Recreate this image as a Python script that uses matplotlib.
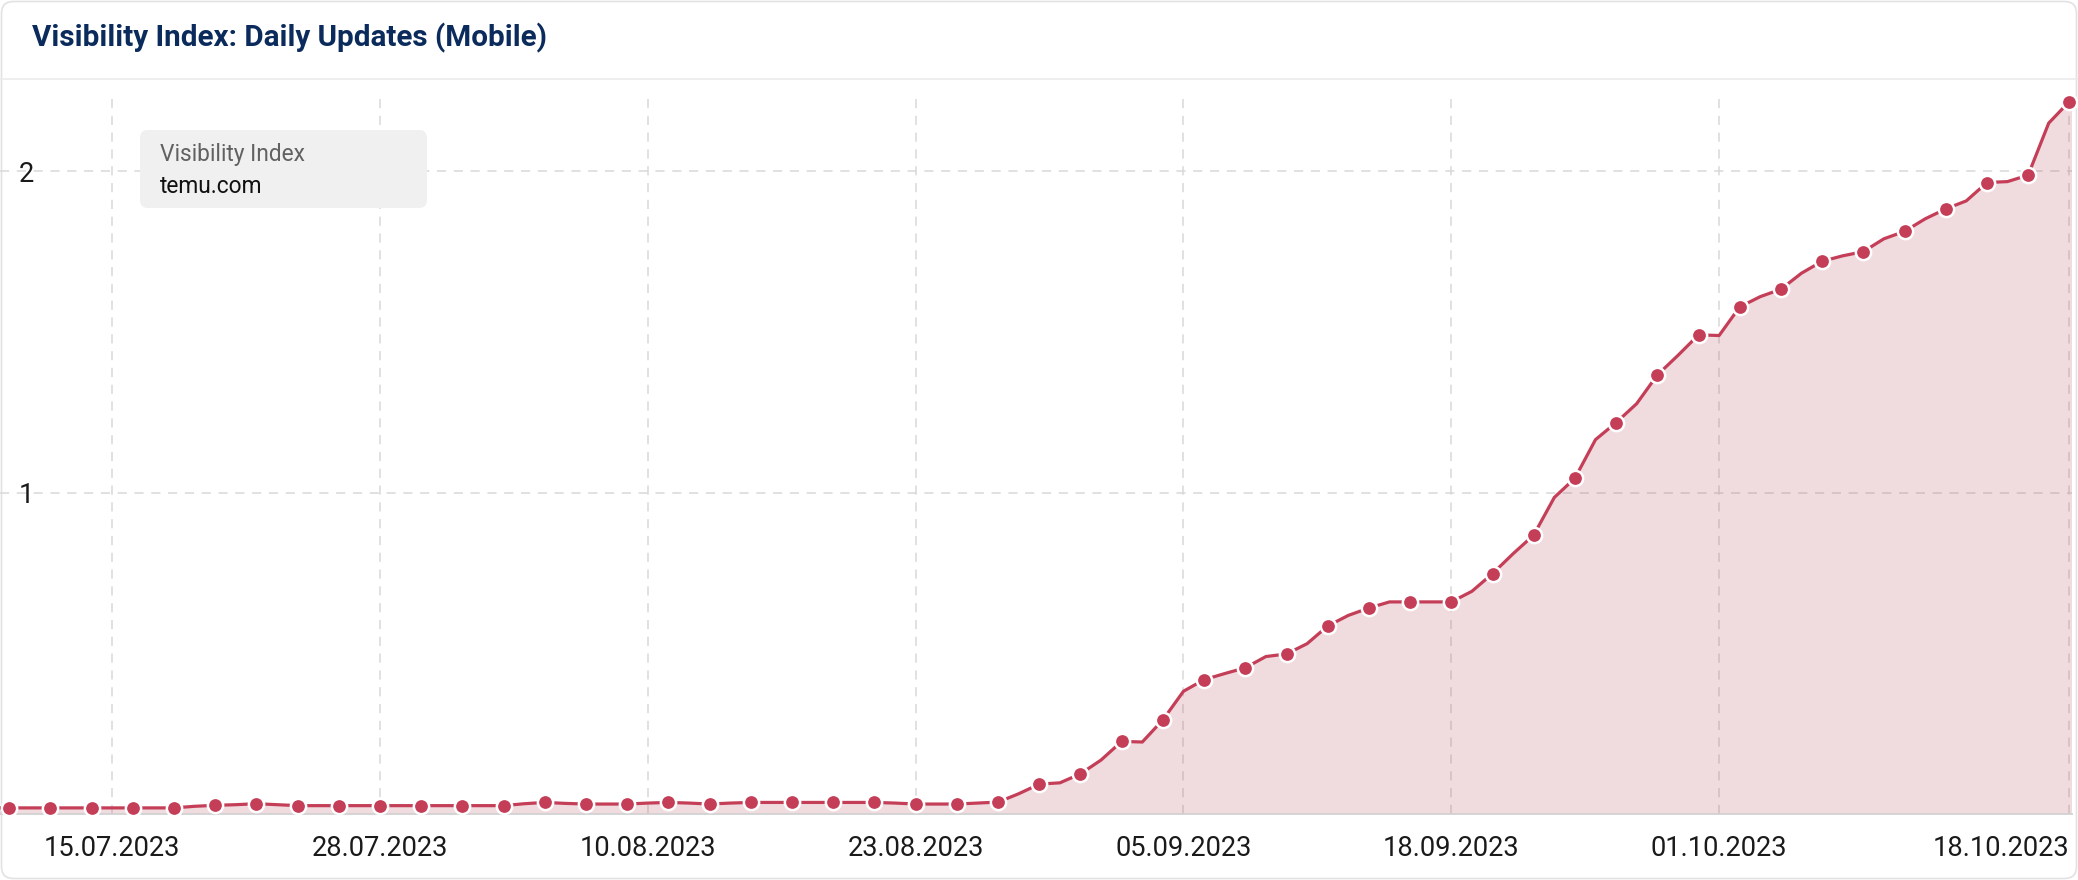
import matplotlib
matplotlib.use('Agg')
import matplotlib.pyplot as plt
import matplotlib.dates as mdates
from matplotlib.patches import FancyBboxPatch
from matplotlib.lines import Line2D
from matplotlib.transforms import Affine2D
from matplotlib.ticker import FormatStrFormatter
import pandas as pd

# ---------------- data ----------------
start_date = '2023-07-09'
visibility = [
    # July 09 - 31
    0.019, 0.019, 0.019, 0.019, 0.019, 0.019, 0.019, 0.019, 0.019, 0.019,
    0.024, 0.027, 0.029, 0.032, 0.029, 0.026, 0.026, 0.026, 0.026, 0.026,
    0.026, 0.026, 0.026,
    # August 01 - 31
    0.026, 0.026, 0.026, 0.032, 0.036, 0.033, 0.031, 0.031, 0.031, 0.034,
    0.036, 0.034, 0.031, 0.034, 0.036, 0.036, 0.036, 0.036, 0.036, 0.036,
    0.036, 0.034, 0.031, 0.031, 0.031, 0.034, 0.037, 0.063, 0.093, 0.097,
    0.125,
    # September 01 - 30
    0.168, 0.226, 0.224, 0.293, 0.382, 0.418, 0.437, 0.455, 0.490, 0.498,
    0.530, 0.585, 0.618, 0.641, 0.660, 0.660, 0.660, 0.660, 0.693, 0.748,
    0.810, 0.868, 0.985, 1.045, 1.165, 1.218, 1.277, 1.366, 1.427, 1.491,
    # October 01 - 19
    1.489, 1.578, 1.610, 1.633, 1.683, 1.720, 1.737, 1.750, 1.790, 1.813,
    1.852, 1.883, 1.908, 1.965, 1.968, 1.988, 2.150, 2.217, 2.215,
]
tick_dates = ['2023-07-15', '2023-07-28', '2023-08-10', '2023-08-23',
              '2023-09-05', '2023-09-18', '2023-10-01', '2023-10-18']
y_ticks = [1, 2]
chart_title = 'Visibility Index: Daily Updates (Mobile)'
legend_title = 'Visibility Index'
series_name = 'temu.com'

# ---------------- style ----------------
W, H = 2078, 880
line_color = '#c53e58'
fill_color = '#b44b5f'
plt.rcParams['font.family'] = ['Roboto', 'DejaVu Sans']

fig = plt.figure(figsize=(W / 100, H / 100), dpi=100)
fig.patch.set_facecolor('white')
px = Affine2D().scale(1 / W, -1 / H).translate(0, 1) + fig.transFigure

card = FancyBboxPatch((1.5, 1.5), W - 3, H - 3,
                      boxstyle='round,pad=0,rounding_size=12',
                      transform=px, facecolor='white', edgecolor='#e2e2e2',
                      lw=1.2, zorder=-10)
fig.add_artist(card)

fig.add_artist(Line2D([0, 1], [1 - 79 / H] * 2, transform=fig.transFigure,
                      color='#ebebeb', lw=1.2, zorder=-5))

fig.text(32 / W, 1 - 38 / H, chart_title, fontsize=21.3, fontweight='bold',
         color='#0b2b5c', ha='left', va='center')

# ---------------- axes ----------------
ax_bottom_px, ax_top_px, ax_right_px = 814, 99, 2072
ax = fig.add_axes([0, (H - ax_bottom_px) / H, ax_right_px / W,
                   (ax_bottom_px - ax_top_px) / H])
ax.set_facecolor('none')

dates = pd.date_range(start_date, periods=len(visibility), freq='D')

ax.fill_between(dates, visibility, 0, color=fill_color, alpha=0.2, lw=0, zorder=2)
ax.plot(dates, visibility, color=line_color, lw=2.3, zorder=3,
        solid_joinstyle='round', solid_capstyle='round')
ax.plot(dates[1::2], visibility[1::2], ls='none', marker='o', ms=11,
        mfc=line_color, mec='white', mew=1.8, zorder=4, clip_on=False)

first_marker = mdates.date2num(dates[1])
last_marker = mdates.date2num(dates[-2])
ax.set_xlim(first_marker - 0.45, last_marker + 0.13)
ax.set_ylim(0, 2.225)

ax.set_xticks(pd.to_datetime(tick_dates))
ax.xaxis.set_major_formatter(mdates.DateFormatter('%d.%m.%Y'))
ax.set_yticks(y_ticks)
ax.yaxis.set_major_formatter(FormatStrFormatter('%d'))

ax.grid(True, color='#d9d9d9', lw=1.1, linestyle=(0, (6, 5)), zorder=1)
ax.set_axisbelow(True)

for s in ['top', 'right', 'left']:
    ax.spines[s].set_visible(False)
ax.spines['bottom'].set_color('#d2d2d2')
ax.spines['bottom'].set_linewidth(1.3)

ax.tick_params(axis='x', length=0, pad=15, labelsize=19.6, labelcolor='#1a1a1a')
ax.tick_params(axis='y', length=0, pad=-13.7, labelsize=19.6, labelcolor='#1a1a1a')
for lbl in ax.get_yticklabels():
    lbl.set_horizontalalignment('left')
xl = ax.get_xticklabels()
xl[-1].set_horizontalalignment('right')

# ---------------- legend box ----------------
leg = FancyBboxPatch((140, 130), 287, 78, boxstyle='round,pad=0,rounding_size=8',
                     transform=px, facecolor='#f0f0f0', edgecolor='none', zorder=5)
fig.add_artist(leg)
fig.text(160 / W, 1 - 154 / H, legend_title, fontsize=16.4, color='#616161',
         ha='left', va='center', zorder=6)
fig.text(160 / W, 1 - 186 / H, series_name, fontsize=16.4, color='#111111',
         ha='left', va='center', zorder=6)

fig.savefig('out.png', dpi=100, facecolor='white')
